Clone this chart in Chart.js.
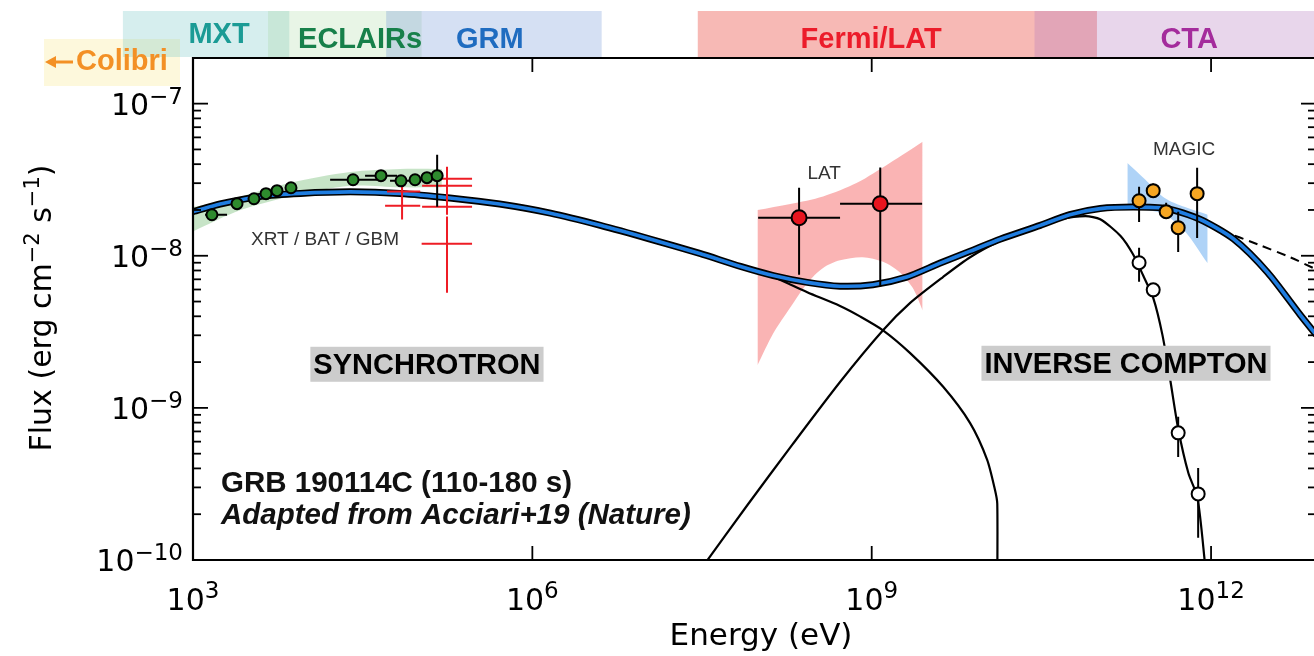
<!DOCTYPE html>
<html>
<head>
<meta charset="utf-8">
<script src="https://cdn.jsdelivr.net/npm/chart.js@4.4.0/dist/chart.umd.min.js"></script>
<style>
  html, body { margin: 0; padding: 0; background: #fff; }
  #wrap { width: 1314px; height: 656px; }
</style>
</head>
<body>
<div id="wrap"><canvas id="sed" width="1314" height="656"></canvas></div>
<script>
// ---- axes ----
const xTicks = [1e3, 1e6, 1e9, 1e12];
const yTicks = [1e-10, 1e-9, 1e-8, 1e-7];

// ---- instrument ranges drawn above the plot (eV) ----
const instrNames = ['MXT', 'ECLAIRs', 'GRM', 'Fermi/LAT', 'CTA'];
const instrLoE   = [2.4e2, 4.6e3, 5.1e4, 2.9e7, 2.75e10];
const instrHiE   = [7.1e3, 1.05e5, 4.1e6, 9.8e10, 1e14];
const instrLabelE = [1.7e3, 3.0e4, 4.2e5, 9.9e8, 6.4e11];

// ---- model curves: log10(E/eV), log10(flux) ----
const totalLogE = [3.00, 3.24, 3.59, 3.95, 4.39, 4.83, 5.27, 5.71, 6.16, 6.60, 7.04, 7.48, 7.84, 8.13, 8.43, 8.72, 9.01, 9.31, 9.60, 9.87, 10.14, 10.49, 10.75, 11.02, 11.31, 11.61, 11.90, 12.20, 12.50, 12.79, 12.93];
const totalLogF = [-7.71, -7.66, -7.61, -7.59, -7.58, -7.59, -7.62, -7.66, -7.72, -7.80, -7.89, -7.985, -8.07, -8.13, -8.175, -8.20, -8.19, -8.14, -8.05, -7.97, -7.89, -7.80, -7.73, -7.69, -7.68, -7.69, -7.76, -7.89, -8.11, -8.39, -8.52];

const syncLogE = [3.00, 3.24, 3.59, 3.95, 4.39, 4.83, 5.27, 5.71, 6.16, 6.60, 7.04, 7.48, 7.84, 8.13, 8.43, 8.72, 8.90, 9.10, 9.34, 9.63, 9.87, 10.02, 10.09, 10.11, 10.11];
const syncLogF = [-7.71, -7.66, -7.61, -7.59, -7.58, -7.59, -7.62, -7.66, -7.72, -7.80, -7.89, -7.985, -8.07, -8.14, -8.24, -8.33, -8.40, -8.49, -8.64, -8.86, -9.10, -9.34, -9.54, -9.63, -10.2];

const icLogE = [7.50, 7.90, 8.30, 8.72, 9.10, 9.34, 9.63, 9.87, 10.14, 10.40, 10.67, 10.89, 11.02, 11.20, 11.31, 11.40, 11.49, 11.57, 11.64, 11.71, 11.80, 11.88, 11.95];
const icLogF = [-10.05, -9.64, -9.24, -8.83, -8.49, -8.31, -8.14, -8.01, -7.90, -7.82, -7.76, -7.74, -7.76, -7.87, -7.99, -8.13, -8.28, -8.52, -8.82, -9.14, -9.43, -9.59, -10.05];

const dashLogE = [11.59, 11.73, 12.08, 12.43, 12.70, 12.93];
const dashLogF = [-7.70, -7.72, -7.83, -7.93, -8.01, -8.09];

// ---- shaded bands ----
const xrtBandLogE   = [3.00, 3.42, 3.86, 4.39, 4.83, 5.20];
const xrtBandHiLogF = [-7.68, -7.61, -7.52, -7.45, -7.43, -7.43];
const xrtBandLoLogF = [-7.84, -7.70, -7.61, -7.54, -7.55, -7.55];

const latBandHiLogE = [7.99, 8.28, 8.57, 8.87, 9.16, 9.45];
const latBandHiLogF = [-7.70, -7.66, -7.61, -7.52, -7.39, -7.25];
const latBandLoLogE = [7.99, 8.13, 8.28, 8.43, 8.57, 8.72, 8.92, 9.10, 9.25, 9.37, 9.45];
const latBandLoLogF = [-8.72, -8.51, -8.34, -8.18, -8.08, -8.03, -8.01, -8.04, -8.11, -8.22, -8.36];

const magicBandLogE   = [11.26, 11.42, 11.59, 11.77, 11.97];
const magicBandHiLogF = [-7.39, -7.50, -7.62, -7.68, -7.73];
const magicBandLoLogF = [-7.70, -7.70, -7.73, -7.84, -8.05];

// ---- data points ----
// XRT / BAT / GBM (green)
const xrtE   = [1.47e3, 2.45e3, 3.46e3, 4.42e3, 5.53e3, 7.35e3, 2.60e4, 4.59e4, 6.90e4, 9.18e4, 1.17e5, 1.44e5];
const xrtF   = [1.86e-8, 2.20e-8, 2.37e-8, 2.56e-8, 2.68e-8, 2.80e-8, 3.16e-8, 3.36e-8, 3.11e-8, 3.16e-8, 3.26e-8, 3.36e-8];
const xrtElo = [1.28e3, null, null, null, null, null, 1.63e4, 3.32e4, 5.52e4, null, null, null];
const xrtEhi = [2.00e3, null, null, null, null, null, 4.24e4, 6.37e4, 8.63e4, null, null, null];
const xrtFlo = [null, null, null, null, null, null, null, null, null, null, null, 2.10e-8];
const xrtFhi = [null, null, null, null, null, null, null, null, null, null, null, 4.61e-8];

// GBM crosses (red)
const gbmE   = [7.05e4, 7.05e4, 1.76e5, 1.76e5, 1.76e5, 2.16e5];
const gbmF   = [2.64e-8, 2.13e-8, 2.89e-8, 2.10e-8, 1.20e-8, 3.21e-8];
const gbmElo = [5.19e4, 4.99e4, 1.06e5, 1.06e5, 1.05e5, 1.59e5];
const gbmEhi = [1.02e5, 1.02e5, 2.93e5, 2.93e5, 2.93e5, 2.93e5];
const gbmFlo = [2.33e-8, 1.73e-8, 2.10e-8, 1.86e-8, 5.71e-9, null];
const gbmFhi = [3.02e-8, 2.80e-8, 3.85e-8, 3.16e-8, 1.81e-8, null];

// Fermi-LAT
const latE   = [2.28e8, 1.19e9];
const latF   = [1.78e-8, 2.20e-8];
const latElo = [9.91e7, 5.25e8];
const latEhi = [5.25e8, 2.79e9];
const latFlo = [7.5e-9, 6.25e-9];
const latFhi = [2.8e-8, 3.8e-8];

// MAGIC, EBL corrected (orange) and observed (white)
const magicE   = [2.31e11, 3.08e11, 4.01e11, 5.12e11, 7.53e11];
const magicF   = [2.30e-8, 2.68e-8, 1.95e-8, 1.53e-8, 2.56e-8];
const magicFlo = [1.67e-8, 2.41e-8, 1.78e-8, 1.06e-8, 1.31e-8];
const magicFhi = [2.84e-8, 2.98e-8, 2.23e-8, 1.95e-8, 3.79e-8];

const obsE   = [2.31e11, 3.08e11, 5.12e11, 7.69e11];
const obsF   = [9.0e-9, 5.97e-9, 6.85e-10, 2.72e-10];
const obsFlo = [6.75e-9, 5.3e-9, 4.76e-10, 1.40e-10];
const obsFhi = [1.13e-8, 6.6e-9, 8.73e-10, 4.03e-10];

// ---- helpers ----
const L = v => Math.pow(10, v);
const curve = (le, lf) => le.map((e, i) => ({ x: L(e), y: L(lf[i]) }));
const pts = (E, F) => E.map((e, i) => ({ x: e, y: F[i] }));

// error bars as broken line segments (null y breaks the line)
function bars(E, F, Elo, Ehi, Flo, Fhi) {
  const out = [];
  E.forEach((e, i) => {
    if (Elo && Elo[i] != null) {
      out.push({ x: Elo[i], y: F[i] }, { x: Ehi[i], y: F[i] }, { x: e, y: null });
    }
    if (Flo && Flo[i] != null) {
      out.push({ x: e, y: Flo[i] }, { x: e, y: Fhi[i] }, { x: e, y: null });
    }
  });
  return out;
}

const expText = v => String(Math.round(Math.log10(v))).replace('-', '\u2212');
const FONT = '"DejaVu Sans", sans-serif';

// ---- decorations: instrument strip, frame, ticks, labels ----
const sedDecor = {
  id: 'sedDecor',
  beforeDraw(chart) {
    const c = chart.ctx;
    const x = chart.scales.x;
    c.save();
    c.fillStyle = '#fff';
    c.fillRect(0, 0, chart.width, chart.height);

    // Colibri box
    c.fillStyle = '#fdf8dc';
    c.fillRect(44, 39, 136, 47);

    const fills = ['rgba(120,200,200,0.30)', 'rgba(150,210,140,0.22)', 'rgba(100,140,210,0.27)',
                   'rgba(235,80,70,0.40)', 'rgba(180,120,190,0.30)'];
    const colors = ['#1b9b95', '#17804a', '#1f6cc0', '#ec1c2a', '#a42c9c'];
    const labelY = [35, 40, 40, 40, 40];
    instrNames.forEach((n, i) => {
      const a = x.getPixelForValue(instrLoE[i]);
      const b = x.getPixelForValue(instrHiE[i]);
      c.fillStyle = fills[i];
      c.fillRect(a, 11, b - a, 46);
    });
    c.font = 'bold 29px "Liberation Sans", Arial, sans-serif';
    c.textAlign = 'center';
    c.textBaseline = 'middle';
    instrNames.forEach((n, i) => {
      c.fillStyle = colors[i];
      c.fillText(n, x.getPixelForValue(instrLabelE[i]), labelY[i]);
    });

    // Colibri arrow + label
    c.fillStyle = '#f39025';
    c.beginPath();
    c.moveTo(45, 62); c.lineTo(56, 56); c.lineTo(56, 68); c.closePath();
    c.fill();
    c.fillRect(55, 60.5, 18, 3);
    c.textAlign = 'left';
    c.font = 'bold 29px "Liberation Sans", Arial, sans-serif';
    c.fillText('Colibri', 76, 62);
    c.restore();
  },
  afterDatasetsDraw(chart) {
    const c = chart.ctx;
    const x = chart.scales.x, y = chart.scales.y;
    const { left, right, top, bottom } = chart.chartArea;
    c.save();
    c.strokeStyle = '#000';
    c.lineWidth = 2.2;
    c.beginPath();
    c.moveTo(right + 4, top);
    c.lineTo(left, top);
    c.lineTo(left, bottom);
    c.lineTo(right + 4, bottom);
    c.stroke();

    const seg = (x0, y0, x1, y1) => { c.beginPath(); c.moveTo(x0, y0); c.lineTo(x1, y1); c.stroke(); };
    c.lineWidth = 1.8;
    xTicks.forEach(v => {
      const p = x.getPixelForValue(v);
      seg(p, bottom, p, bottom - 14);
      seg(p, top, p, top + 14);
    });
    for (let d = -10; d <= -7; d++) {
      for (let m = 1; m <= 9; m++) {
        const v = m * Math.pow(10, d);
        if (v > y.max) continue;
        const p = y.getPixelForValue(v);
        const len = m === 1 ? 15 : 8;
        seg(left, p, left + len, p);
        seg(right + 2, p, right + 2 - len, p);
      }
    }

    // tick labels: 10 with raised exponent
    c.fillStyle = '#000';
    c.textBaseline = 'alphabetic';
    c.textAlign = 'left';
    const big = '30px ' + FONT, small = '23px ' + FONT;
    xTicks.forEach(v => {
      const p = x.getPixelForValue(v);
      const ex = expText(v);
      c.font = big; const w1 = c.measureText('10').width;
      c.font = small; const w2 = c.measureText(ex).width;
      const x0 = p - (w1 + w2) / 2;
      c.font = big; c.fillText('10', x0, bottom + 50);
      c.font = small; c.fillText(ex, x0 + w1, bottom + 38);
    });
    yTicks.forEach(v => {
      const p = y.getPixelForValue(v);
      const ex = expText(v);
      c.font = small; const w2 = c.measureText(ex).width;
      c.font = big; const w1 = c.measureText('10').width;
      const x0 = left - 10 - w1 - w2;
      c.fillText('10', x0, p + 11);
      c.font = small; c.fillText(ex, x0 + w1, p);
    });

    // axis titles
    c.font = '31px ' + FONT;
    c.textAlign = 'center';
    c.textBaseline = 'middle';
    c.fillText('Energy (eV)', 761, 637);

    c.save();
    c.translate(42, 308);
    c.rotate(-Math.PI / 2);
    const parts = [['Flux (erg cm', 0], ['\u22122', 1], [' s', 0], ['\u22121', 1], [')', 0]];
    const fontOf = s => (s ? '21px ' : '30px ') + FONT;
    let total = 0;
    parts.forEach(([t, s]) => { c.font = fontOf(s); total += c.measureText(t).width; });
    let cx = -total / 2;
    c.textAlign = 'left';
    c.textBaseline = 'alphabetic';
    parts.forEach(([t, s]) => {
      c.font = fontOf(s);
      c.fillText(t, cx, s ? -3 : 9);
      cx += c.measureText(t).width;
    });
    c.restore();

    // small labels
    c.fillStyle = '#333';
    c.font = '19px "Liberation Sans", Arial, sans-serif';
    c.textAlign = 'center';
    c.textBaseline = 'middle';
    c.fillText('XRT / BAT / GBM', x.getPixelForValue(1.47e4), y.getPixelForValue(1.27e-8));
    c.fillText('LAT', x.getPixelForValue(3.8e8), y.getPixelForValue(3.47e-8));
    c.fillText('MAGIC', x.getPixelForValue(5.78e11), y.getPixelForValue(4.98e-8));

    // component boxes
    c.font = 'bold 29px "Liberation Sans", Arial, sans-serif';
    [['SYNCHROTRON', 1.17e5, 1.92e-9], ['INVERSE COMPTON', 1.77e11, 1.95e-9]].forEach(([t, e, f]) => {
      const px = x.getPixelForValue(e), py = y.getPixelForValue(f);
      const w = c.measureText(t).width + 6;
      c.fillStyle = '#cccccc';
      c.fillRect(px - w / 2, py - 18, w, 35);
      c.fillStyle = '#000';
      c.fillText(t, px, py + 1);
    });

    c.textAlign = 'left';
    c.fillStyle = '#111';
    c.font = 'bold 29.5px "Liberation Sans", Arial, sans-serif';
    c.fillText('GRB 190114C (110-180 s)', x.getPixelForValue(1.77e3), y.getPixelForValue(3.16e-10));
    c.font = 'italic bold 29.5px "Liberation Sans", Arial, sans-serif';
    c.fillText('Adapted from Acciari+19 (Nature)', x.getPixelForValue(1.77e3), y.getPixelForValue(1.95e-10));
    c.restore();
  }
};

const noPts = { pointRadius: 0, pointHoverRadius: 0 };
const band = (data, color, fill) => ({ data, fill, backgroundColor: color, borderWidth: 0, tension: 0.3, order: 20, ...noPts });
const line = (data, color, width, order, extra) => ({ data, borderColor: color, borderWidth: width, fill: false, tension: 0.25, order, ...noPts, ...extra });
const marks = (data, color, r, order) => ({ data, showLine: false, pointRadius: r, pointBackgroundColor: color, pointBorderColor: '#000', pointBorderWidth: 2, order });
const errs = (data, color, order) => ({ data, borderColor: color, borderWidth: 2, fill: false, tension: 0, spanGaps: false, order, ...noPts });

new Chart(document.getElementById('sed').getContext('2d'), {
  type: 'line',
  data: {
    datasets: [
      band(curve(xrtBandLogE, xrtBandHiLogF), 'rgba(130,195,130,0.45)', '+1'),
      band(curve(xrtBandLogE, xrtBandLoLogF), 'rgba(0,0,0,0)', false),
      band(curve(latBandHiLogE, latBandHiLogF), 'rgba(246,118,118,0.55)', '+1'),
      band(curve(latBandLoLogE, latBandLoLogF), 'rgba(0,0,0,0)', false),
      band(curve(magicBandLogE, magicBandHiLogF), 'rgba(110,175,240,0.55)', '+1'),
      band(curve(magicBandLogE, magicBandLoLogF), 'rgba(0,0,0,0)', false),
      line(curve(syncLogE, syncLogF), '#000', 2.2, 15),
      line(curve(icLogE, icLogF), '#000', 2.2, 15),
      line(curve(dashLogE, dashLogF), '#000', 2, 15, { borderDash: [9, 6] }),
      line(curve(totalLogE, totalLogF), '#000', 7, 12),
      line(curve(totalLogE, totalLogF), '#1f7de0', 3.6, 11),
      errs(bars(gbmE, gbmF, gbmElo, gbmEhi, gbmFlo, gbmFhi), '#ee1c25', 9),
      errs(bars(xrtE, xrtF, xrtElo, xrtEhi, xrtFlo, xrtFhi), '#000', 8),
      errs(bars(latE, latF, latElo, latEhi, latFlo, latFhi), '#000', 8),
      errs(bars(magicE, magicF, null, null, magicFlo, magicFhi), '#000', 8),
      errs(bars(obsE, obsF, null, null, obsFlo, obsFhi), '#000', 8),
      marks(pts(xrtE, xrtF), '#2e8b2e', 5.5, 3),
      marks(pts(latE, latF), '#e8141e', 7.5, 3),
      marks(pts(magicE, magicF), '#f5a623', 6.5, 3),
      marks(pts(obsE, obsF), '#ffffff', 6.5, 3)
    ]
  },
  options: {
    responsive: false,
    animation: false,
    events: [],
    layout: { autoPadding: false, padding: { top: 58, left: 0, right: 0, bottom: 0 } },
    plugins: { legend: { display: false }, tooltip: { enabled: false } },
    scales: {
      x: {
        type: 'logarithmic',
        min: 1e3,
        max: L(12.91),
        afterBuildTicks: s => { s.ticks = xTicks.map(v => ({ value: v })); },
        afterFit: s => { s.height = 96; },
        grid: { display: false },
        border: { display: false },
        ticks: { display: false },
        title: { display: false }
      },
      y: {
        type: 'logarithmic',
        min: 1e-10,
        max: L(-6.70),
        afterBuildTicks: s => { s.ticks = yTicks.map(v => ({ value: v })); },
        afterFit: s => { s.width = 193; },
        grid: { display: false },
        border: { display: false },
        ticks: { display: false },
        title: { display: false }
      }
    }
  },
  plugins: [sedDecor]
});
</script>
</body>
</html>
